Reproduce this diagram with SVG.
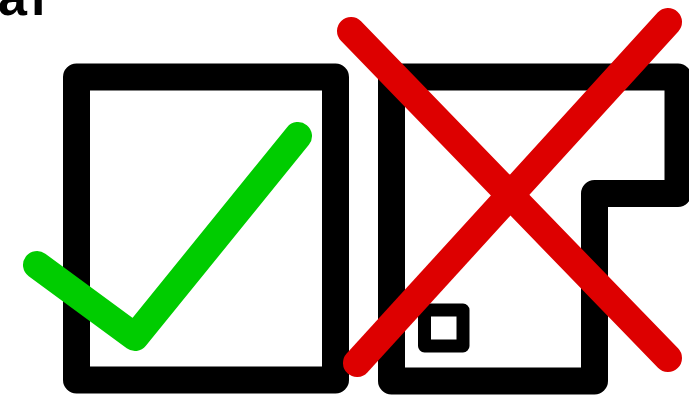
<svg xmlns="http://www.w3.org/2000/svg" width="689" height="401" viewBox="0 0 689 401">
  <style>
    .frame { fill: none; stroke: #000; stroke-width: 27; stroke-linejoin: round; }
    .small { fill: none; stroke: #000; stroke-width: 13; stroke-linejoin: round; }
    .ok { fill: none; stroke: #00cc00; stroke-width: 28; stroke-linecap: round; stroke-linejoin: round; }
    .no { fill: none; stroke: #dd0000; stroke-width: 28; stroke-linecap: round; }
    .lbl { font-family: "Liberation Sans", Arial, sans-serif; font-size: 52px; font-weight: bold; letter-spacing: 4px; fill: #000; }
  </style>
  <rect width="689" height="401" fill="#fff"/>
  <text class="lbl" x="-2" y="15">al</text>
  <g id="good">
    <rect class="frame" x="76.5" y="77" width="259" height="303"/>
    <polyline class="ok" points="37,265 135,337 298,136"/>
  </g>
  <g id="bad">
    <path class="frame" d="M391.5,77 H678 V193.5 H594.5 V381 H391.5 Z"/>
    <rect class="small" x="424.5" y="310" width="38.5" height="36"/>
    <line class="no" x1="351" y1="31" x2="668" y2="358"/>
    <line class="no" x1="668" y1="22" x2="357" y2="363"/>
  </g>
</svg>
